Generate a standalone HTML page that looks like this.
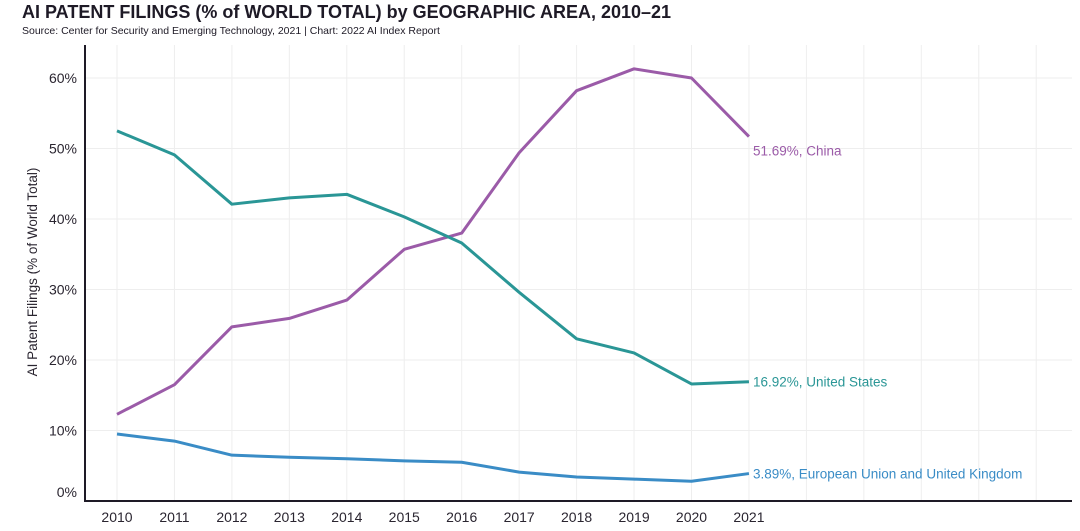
<!DOCTYPE html>
<html><head><meta charset="utf-8"><style>
body{margin:0;background:#fff;font-family:"Liberation Sans",sans-serif;}
#wrap{position:relative;width:1080px;height:531px;overflow:hidden;}
.t{position:absolute;left:22px;top:2px;font-size:18px;font-weight:bold;color:#1e1a26;}
.s{position:absolute;left:22px;top:25px;font-size:10.5px;color:#1e1a26;}
</style></head><body>
<div id="wrap">
<div class="t">AI PATENT FILINGS (% of WORLD TOTAL) by GEOGRAPHIC AREA, 2010–21</div>
<div class="s">Source: Center for Security and Emerging Technology, 2021 | Chart: 2022 AI Index Report</div>
<svg id="svg" width="1080" height="531" style="position:absolute;left:0;top:0"></svg>
</div>
<script>
const years=[2010,2011,2012,2013,2014,2015,2016,2017,2018,2019,2020,2021];
const china=[12.3,16.5,24.7,25.9,28.5,35.7,38.0,49.4,58.2,61.3,60.0,51.69];
const us=[52.5,49.1,42.1,43.0,43.5,40.3,36.6,29.6,23.0,21.0,16.6,16.92];
const eu=[9.5,8.5,6.5,6.2,6.0,5.7,5.5,4.1,3.4,3.1,2.8,3.89];
const yTicks=[0,10,20,30,40,50,60];
const seriesNames=["China","United States","European Union and United Kingdom"];
const svg=document.getElementById('svg');const NS="http://www.w3.org/2000/svg";
const x=i=>117+i*57.45, y=v=>501-v*7.05;
function mk(t,a,p){const e=document.createElementNS(NS,t);for(const k in a)e.setAttribute(k,a[k]);(p||svg).appendChild(e);return e;}
for(let i=0;i<18;i++){const l=mk('line',{x1:x(i),x2:x(i),y1:45,y2:501,stroke:'#eeeeee','stroke-width':1});

}
yTicks.forEach(v=>{const l=mk('line',{x1:85,x2:1072,y1:y(v),y2:y(v),stroke:'#eeeeee'});


const t=mk('text',{x:77,y:y(v)+(v==0?-4:5),'text-anchor':'end','font-size':14,fill:'#2a2530'});t.textContent=v+'%';

});
years.forEach((yr,i)=>{const t=mk('text',{x:x(i),y:522,'text-anchor':'middle','font-size':14,fill:'#2a2530'});t.textContent=yr;

});
const ax=mk('path',{d:'M85 45 V501 H1072',fill:'none',stroke:'#1e1a26','stroke-width':2});


const yt=mk('text',{x:0,y:0,transform:'translate(37,272) rotate(-90)','text-anchor':'middle','font-size':13.5,fill:'#2a2530'});yt.textContent='AI Patent Filings (% of World Total)';


[[china,'#9b5ba8','china'],[us,'#2a9696','united-states'],[eu,'#3a8cc6','eu-uk']].forEach(([d,c,n],k)=>{
const p=mk('polyline',{points:d.map((v,i)=>x(i)+','+y(v)).join(' '),fill:'none',stroke:c,'stroke-width':3,'stroke-linejoin':'round'});


const last=d[d.length-1];
const t=mk('text',{x:x(11)+4,y:y(last)+(k==0?19:5),'font-size':13.5,fill:c});t.textContent=last.toFixed(2)+'%, '+seriesNames[k];

});
</script>
</body></html>
